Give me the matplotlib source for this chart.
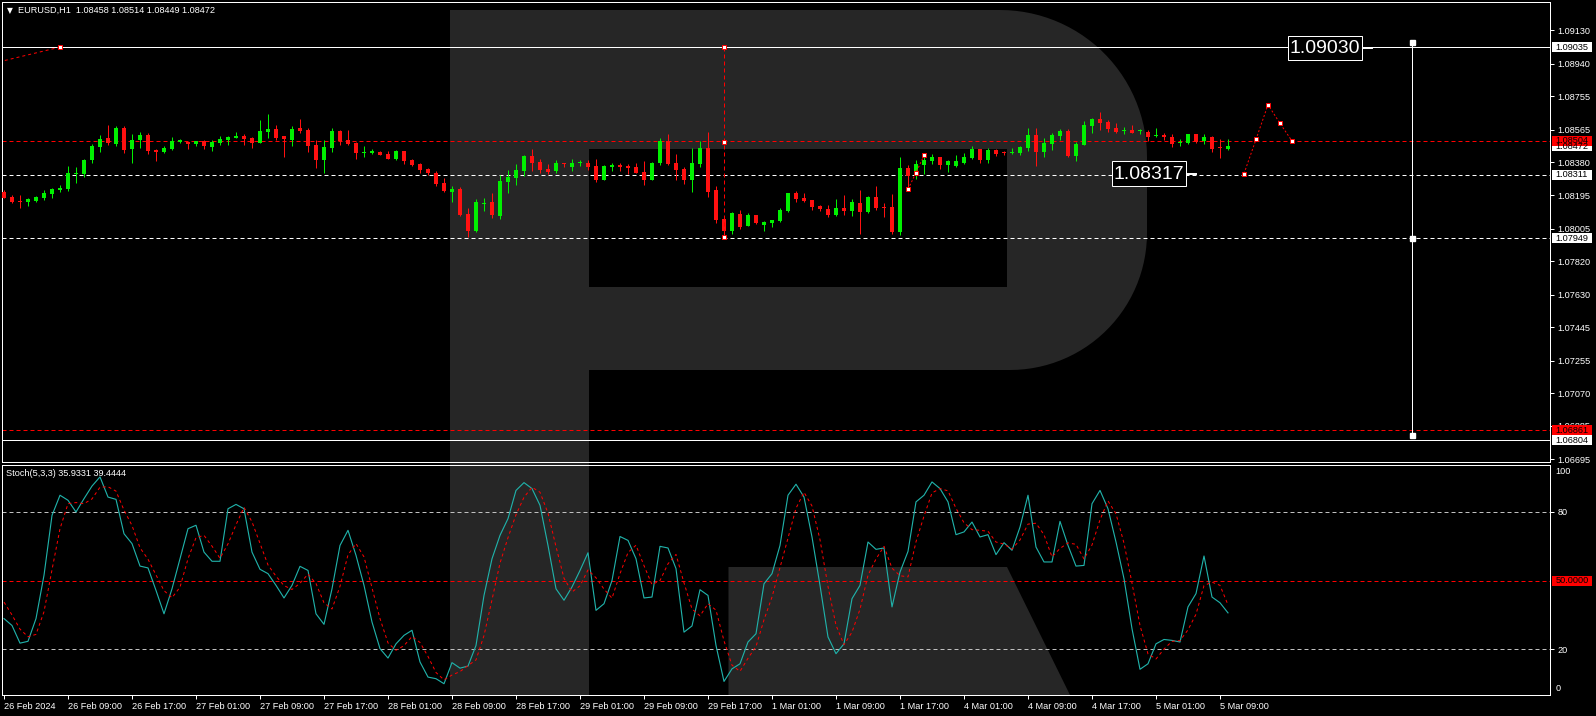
# EURUSD H1 chart with Stochastic (MT4 style)

import numpy as np
import matplotlib.pyplot as plt
from matplotlib import font_manager
from matplotlib.patches import Polygon, Rectangle
from matplotlib.transforms import Affine2D

# -------------------------------
# DATA
# -------------------------------
opens = [1.08212, 1.08184, 1.08161, 1.08156, 1.08161, 1.08178, 1.08201, 1.08224, 1.08229, 1.08314,
         1.08314, 1.08394, 1.08468, 1.08519, 1.08485, 1.08576, 1.08456, 1.08507, 1.08536, 1.08451,
         1.08439, 1.08456, 1.08496, 1.08496, 1.08485, 1.08502, 1.08468, 1.08490, 1.08507, 1.08519,
         1.08530, 1.08519, 1.08490, 1.08553, 1.08570, 1.08530, 1.08507, 1.08576, 1.08564, 1.08479,
         1.08394, 1.08462, 1.08558, 1.08507, 1.08490, 1.08434, 1.08434, 1.08439, 1.08428, 1.08400,
         1.08445, 1.08394, 1.08371, 1.08343, 1.08320, 1.08263, 1.08212, 1.08229, 1.08087, 1.07991,
         1.08144, 1.08156, 1.08076, 1.08269, 1.08292, 1.08331, 1.08417, 1.08383, 1.08343, 1.08331,
         1.08377, 1.08354, 1.08377, 1.08377, 1.08360, 1.08280, 1.08354, 1.08366, 1.08360, 1.08354,
         1.08326, 1.08280, 1.08377, 1.08502, 1.08377, 1.08343, 1.08280, 1.08371, 1.08462, 1.08224,
         1.08059, 1.07991, 1.08087, 1.08019, 1.08082, 1.08025, 1.08036, 1.08048, 1.08104, 1.08207,
         1.08178, 1.08167, 1.08133, 1.08116, 1.08082, 1.08121, 1.08104, 1.08150, 1.08099, 1.08184,
         1.08127, 1.08127, 1.07985, 1.08348, 1.08303, 1.08366, 1.08388, 1.08411, 1.08366, 1.08360,
         1.08377, 1.08405, 1.08456, 1.08394, 1.08451, 1.08434, 1.08434, 1.08434, 1.08462, 1.08536,
         1.08439, 1.08485, 1.08530, 1.08558, 1.08417, 1.08479, 1.08587, 1.08627, 1.08610, 1.08576,
         1.08558, 1.08564, 1.08558, 1.08553, 1.08530, 1.08536, 1.08524, 1.08490, 1.08490, 1.08541,
         1.08502, 1.08524, 1.08468, 1.08458]
highs = [1.08224, 1.08195, 1.08195, 1.08178, 1.08190, 1.08224, 1.08235, 1.08252, 1.08360, 1.08354,
         1.08400, 1.08485, 1.08536, 1.08593, 1.08587, 1.08587, 1.08541, 1.08553, 1.08547, 1.08456,
         1.08473, 1.08524, 1.08513, 1.08496, 1.08502, 1.08507, 1.08507, 1.08530, 1.08530, 1.08553,
         1.08541, 1.08524, 1.08621, 1.08655, 1.08593, 1.08530, 1.08587, 1.08627, 1.08576, 1.08507,
         1.08507, 1.08576, 1.08564, 1.08564, 1.08496, 1.08473, 1.08456, 1.08445, 1.08445, 1.08451,
         1.08445, 1.08400, 1.08377, 1.08348, 1.08331, 1.08292, 1.08246, 1.08241, 1.08121, 1.08173,
         1.08178, 1.08207, 1.08309, 1.08337, 1.08371, 1.08422, 1.08456, 1.08400, 1.08371, 1.08394,
         1.08377, 1.08400, 1.08394, 1.08394, 1.08400, 1.08366, 1.08377, 1.08377, 1.08371, 1.08377,
         1.08388, 1.08383, 1.08519, 1.08541, 1.08428, 1.08354, 1.08462, 1.08502, 1.08553, 1.08246,
         1.08065, 1.08099, 1.08110, 1.08093, 1.08082, 1.08048, 1.08053, 1.08121, 1.08207, 1.08218,
         1.08207, 1.08167, 1.08139, 1.08139, 1.08173, 1.08195, 1.08173, 1.08224, 1.08190, 1.08246,
         1.08150, 1.08201, 1.08411, 1.08366, 1.08394, 1.08428, 1.08428, 1.08411, 1.08394, 1.08422,
         1.08434, 1.08473, 1.08456, 1.08462, 1.08456, 1.08445, 1.08462, 1.08473, 1.08576, 1.08576,
         1.08519, 1.08547, 1.08570, 1.08570, 1.08496, 1.08615, 1.08632, 1.08666, 1.08621, 1.08604,
         1.08581, 1.08593, 1.08570, 1.08564, 1.08576, 1.08547, 1.08541, 1.08513, 1.08541, 1.08541,
         1.08541, 1.08530, 1.08513, 1.08514]
lows = [1.08178, 1.08150, 1.08121, 1.08133, 1.08156, 1.08167, 1.08178, 1.08212, 1.08218, 1.08263,
        1.08297, 1.08377, 1.08439, 1.08479, 1.08473, 1.08434, 1.08377, 1.08462, 1.08428, 1.08388,
        1.08434, 1.08451, 1.08490, 1.08456, 1.08473, 1.08456, 1.08445, 1.08479, 1.08479, 1.08519,
        1.08479, 1.08462, 1.08490, 1.08519, 1.08507, 1.08411, 1.08473, 1.08547, 1.08439, 1.08348,
        1.08320, 1.08439, 1.08479, 1.08479, 1.08400, 1.08411, 1.08428, 1.08422, 1.08400, 1.08394,
        1.08371, 1.08360, 1.08320, 1.08309, 1.08246, 1.08212, 1.08156, 1.08076, 1.07957, 1.07985,
        1.08104, 1.08065, 1.08059, 1.08207, 1.08252, 1.08303, 1.08331, 1.08320, 1.08314, 1.08320,
        1.08354, 1.08331, 1.08360, 1.08337, 1.08269, 1.08280, 1.08331, 1.08331, 1.08314, 1.08320,
        1.08252, 1.08280, 1.08366, 1.08366, 1.08280, 1.08258, 1.08212, 1.08354, 1.08184, 1.08036,
        1.07946, 1.07974, 1.08002, 1.08019, 1.08031, 1.07991, 1.08014, 1.08042, 1.08099, 1.08156,
        1.08156, 1.08110, 1.08104, 1.08070, 1.08076, 1.08082, 1.08076, 1.07974, 1.08093, 1.08110,
        1.08070, 1.07974, 1.07968, 1.08235, 1.08286, 1.08314, 1.08371, 1.08343, 1.08326, 1.08354,
        1.08371, 1.08400, 1.08377, 1.08377, 1.08417, 1.08422, 1.08428, 1.08422, 1.08445, 1.08360,
        1.08411, 1.08451, 1.08507, 1.08411, 1.08388, 1.08479, 1.08547, 1.08564, 1.08553, 1.08547,
        1.08541, 1.08547, 1.08541, 1.08502, 1.08524, 1.08507, 1.08468, 1.08473, 1.08485, 1.08490,
        1.08485, 1.08439, 1.08405, 1.08449]
closes = [1.08178, 1.08156, 1.08158, 1.08173, 1.08184, 1.08207, 1.08229, 1.08235, 1.08320, 1.08322,
          1.08394, 1.08473, 1.08513, 1.08490, 1.08576, 1.08451, 1.08507, 1.08536, 1.08445, 1.08439,
          1.08462, 1.08502, 1.08507, 1.08485, 1.08502, 1.08473, 1.08496, 1.08513, 1.08524, 1.08530,
          1.08513, 1.08490, 1.08558, 1.08570, 1.08519, 1.08513, 1.08570, 1.08558, 1.08473, 1.08394,
          1.08468, 1.08558, 1.08502, 1.08485, 1.08434, 1.08439, 1.08445, 1.08422, 1.08400, 1.08445,
          1.08388, 1.08366, 1.08337, 1.08320, 1.08258, 1.08218, 1.08229, 1.08082, 1.07991, 1.08156,
          1.08150, 1.08082, 1.08275, 1.08297, 1.08337, 1.08417, 1.08377, 1.08337, 1.08326, 1.08377,
          1.08371, 1.08377, 1.08383, 1.08354, 1.08280, 1.08360, 1.08366, 1.08354, 1.08348, 1.08320,
          1.08280, 1.08377, 1.08502, 1.08371, 1.08337, 1.08280, 1.08377, 1.08462, 1.08212, 1.08053,
          1.07991, 1.08093, 1.08014, 1.08082, 1.08036, 1.08042, 1.08053, 1.08110, 1.08207, 1.08173,
          1.08161, 1.08127, 1.08116, 1.08082, 1.08121, 1.08104, 1.08156, 1.08099, 1.08184, 1.08121,
          1.08121, 1.07985, 1.08348, 1.08303, 1.08371, 1.08394, 1.08411, 1.08366, 1.08388, 1.08388,
          1.08411, 1.08456, 1.08394, 1.08451, 1.08428, 1.08432, 1.08439, 1.08468, 1.08536, 1.08439,
          1.08490, 1.08536, 1.08558, 1.08417, 1.08485, 1.08593, 1.08627, 1.08604, 1.08570, 1.08553,
          1.08564, 1.08547, 1.08564, 1.08524, 1.08536, 1.08524, 1.08485, 1.08496, 1.08541, 1.08496,
          1.08524, 1.08456, 1.08462, 1.08472]

# Stochastic(5,3,3): main (%K) and signal (%D)
stoch_main = [33.4, 30.4, 22.7, 23.5, 33.4, 52.3, 78.4, 87.2, 85.0, 79.9,
              85.7, 91.2, 95.2, 86.4, 85.4, 70.4, 66.1, 56.3, 55.5, 45.7,
              35.5, 46.4, 59.5, 72.6, 74.1, 62.4, 58.4, 58.4, 81.3, 83.2,
              81.3, 62.4, 54.9, 53.0, 47.9, 42.4, 47.9, 56.2, 54.4, 35.5,
              30.9, 46.4, 65.3, 71.9, 61.0, 47.9, 31.9, 20.3, 16.2, 22.4,
              26.1, 28.3, 14.5, 7.9, 7.2, 5.0, 14.2, 11.8, 12.7, 21.7,
              43.5, 59.5, 69.7, 77.0, 89.3, 92.7, 90.1, 82.8, 65.3, 46.4,
              41.4, 47.2, 54.4, 62.1, 37.0, 39.9, 50.0, 69.2, 67.5, 59.5,
              42.4, 42.8, 64.9, 64.2, 55.2, 27.5, 30.2, 46.0, 43.5, 21.7,
              6.0, 11.5, 13.7, 23.2, 26.8, 48.6, 53.0, 65.3, 87.2, 92.0,
              86.4, 69.0, 47.9, 25.4, 18.1, 22.4, 42.1, 47.9, 66.8, 63.6,
              64.2, 38.5, 53.7, 62.7, 84.3, 87.2, 93.0, 90.1, 84.3, 70.0,
              71.2, 75.5, 69.0, 70.0, 61.3, 66.5, 63.2, 73.3, 87.2, 64.6,
              58.1, 58.1, 75.8, 65.3, 56.3, 56.6, 83.5, 89.3, 81.3, 66.8,
              50.8, 29.0, 11.3, 13.7, 22.4, 24.3, 23.9, 23.2, 38.5, 44.3,
              60.7, 42.8, 40.3, 35.9]
stoch_signal = [40.6, 35.0, 28.8, 25.5, 26.5, 36.4, 54.7, 72.6, 83.5, 84.0,
                83.5, 85.6, 90.7, 90.9, 89.0, 80.7, 74.0, 64.3, 59.3, 52.5,
                45.6, 42.5, 47.1, 59.5, 68.7, 69.7, 65.0, 59.7, 66.0, 74.3,
                81.9, 75.6, 66.2, 56.8, 51.9, 47.8, 46.1, 48.8, 52.8, 48.7,
                40.3, 37.6, 47.5, 61.2, 66.1, 60.3, 46.9, 33.4, 22.8, 19.6,
                21.6, 25.6, 23.0, 16.9, 9.9, 6.7, 8.8, 10.3, 12.9, 15.4,
                26.0, 41.6, 57.6, 68.7, 78.7, 86.3, 90.7, 88.5, 79.4, 64.8,
                51.0, 45.0, 47.7, 54.6, 51.2, 46.3, 42.3, 53.0, 62.2, 65.4,
                56.5, 48.2, 50.0, 57.3, 61.4, 49.0, 37.6, 34.6, 39.9, 37.1,
                23.7, 13.1, 10.4, 16.1, 21.2, 32.9, 42.8, 55.6, 68.5, 81.5,
                88.5, 82.5, 67.8, 47.4, 30.5, 22.0, 27.5, 37.5, 52.3, 59.4,
                64.9, 55.4, 52.1, 51.6, 66.9, 78.1, 88.2, 90.1, 89.1, 81.5,
                75.2, 72.2, 71.9, 71.5, 66.8, 65.9, 63.7, 67.7, 74.6, 75.0,
                70.0, 60.3, 64.0, 66.4, 65.8, 59.4, 65.5, 76.5, 84.7, 79.1,
                66.3, 48.9, 30.4, 18.0, 15.8, 20.1, 23.5, 23.8, 28.5, 35.3,
                47.8, 49.3, 47.9, 39.4]

time_labels = ["26 Feb 2024", "26 Feb 09:00", "26 Feb 17:00", "27 Feb 01:00", "27 Feb 09:00",
               "27 Feb 17:00", "28 Feb 01:00", "28 Feb 09:00", "28 Feb 17:00", "29 Feb 01:00",
               "29 Feb 09:00", "29 Feb 17:00", "1 Mar 01:00", "1 Mar 09:00", "1 Mar 17:00",
               "4 Mar 01:00", "4 Mar 09:00", "4 Mar 17:00", "5 Mar 01:00", "5 Mar 09:00"]
label_step = 8

price_ticks = [1.09130, 1.08940, 1.08755, 1.08565, 1.08380, 1.08195, 1.08005,
               1.07820, 1.07630, 1.07445, 1.07255, 1.07070, 1.06885, 1.06695]

solid_levels = [1.09035, 1.06804]
red_levels = [1.08504, 1.06861]
dash_levels = [1.08311, 1.07949]
bid_price = 1.08472

# chart objects (bar index, price)
trend_left_x, trend_left_y = [-2, 7], [1.08936, 1.09035]
vline_red_x, vline_red_y = [90, 90, 90], [1.09035, 1.08496, 1.07957]
trend_mid_x, trend_mid_y = [113, 114, 115], [1.08228, 1.08322, 1.08420]
forecast_x = [155, 156.5, 158, 159.5, 161]
forecast_y = [1.08317, 1.08511, 1.08708, 1.08602, 1.08502]
vline_white_x, vline_white_y = [176, 176, 176], [1.09062, 1.07949, 1.06836]
tag_bars, tag_prices = [171, 149], [1.09030, 1.08317]

# -------------------------------
# LAYOUT (pixels)
# -------------------------------
W, H = 1596, 716
P_TOP, P_BOT = 1.09291, 1.06680
BULL, BEAR = "#00f000", "#ff1010"
GREY = "#262626"
LW = 0.72   # 1 px
FS = 6.6

names = {f.name for f in font_manager.fontManager.ttflist}
NARROW = "Liberation Sans Narrow" if "Liberation Sans Narrow" in names else "Liberation Sans"
plt.rcParams["font.family"] = [NARROW, "DejaVu Sans"]

fig = plt.figure(figsize=(W / 100, H / 100), dpi=100, facecolor="black")
px = Affine2D().scale(1 / W, -1 / H).translate(0, 1) + fig.transFigure


def frac(x0, y0, x1, y1):
    return [x0 / W, 1 - y1 / H, (x1 - x0) / W, (y1 - y0) / H]


def bar_px(i):
    return 4 + 8 * i


def price_px(p):
    return 2 + (P_TOP - p) / (P_TOP - P_BOT) * 460


ax = fig.add_axes(frac(2, 2, 1550, 462))
ax2 = fig.add_axes(frac(2, 464.5, 1550, 695.2))

# -------------------------------
# WATERMARK
# -------------------------------
t = np.linspace(-np.pi / 2, 0, 30)
t2 = np.linspace(0, np.pi / 2, 30)
bowl = [(450, 10), (1000, 10)]
bowl += list(zip(1000 + 147 * np.cos(t), 157 + 147 * np.sin(t)))
bowl += list(zip(1010 + 137 * np.cos(t2), 233 + 137 * np.sin(t2)))
bowl += [(450, 370)]
shapes = [
    (bowl, GREY),
    ([(589, 149), (1007, 149), (1007, 287), (589, 287)], "black"),
    ([(450, 10), (589, 10), (589, 695), (450, 695)], GREY),
    ([(728.5, 567), (1007, 567), (1070, 695), (728.5, 695)], GREY),
]
for pts, fc in shapes:
    fig.add_artist(Polygon(pts, closed=True, fc=fc, ec="none", transform=px, zorder=-1))

# -------------------------------
# MAIN PANEL
# -------------------------------
x = np.arange(len(opens))
o, h, l, c = map(np.array, (opens, highs, lows, closes))
col = np.where(c > o, BULL, BEAR)

for lv in solid_levels:
    ax.axhline(lv, color="white", lw=LW, zorder=2)
for lv in red_levels:
    ax.axhline(lv, color="red", lw=LW, dashes=(4, 3), zorder=2)
for lv in dash_levels:
    ax.axhline(lv, color="white", lw=LW, dashes=(4, 3), zorder=2)

ax.vlines(x, l, h, colors=col, lw=LW, zorder=3)
ax.bar(x, np.maximum(np.abs(c - o), 0.00006), bottom=np.minimum(o, c),
       width=0.62, color=col, lw=0, zorder=4)

sq = dict(marker="s", ms=3.4, mfc="white", mec="red", mew=0.7)
ax.plot(trend_left_x, trend_left_y, color="red", lw=LW, dashes=(3, 3), zorder=5)
ax.plot(trend_left_x[-1:], trend_left_y[-1:], ls="none", zorder=6, **sq)
ax.plot(vline_red_x, vline_red_y, color="red", lw=LW, dashes=(4, 3), zorder=5)
ax.plot(vline_red_x, vline_red_y, ls="none", zorder=6, **sq)
ax.plot(trend_mid_x, trend_mid_y, color="red", lw=LW, dashes=(2, 2), zorder=5)
ax.plot(trend_mid_x, trend_mid_y, ls="none", zorder=6, **sq)
ax.plot(forecast_x, forecast_y, color="red", lw=LW, dashes=(2, 2), zorder=5)
ax.plot(forecast_x, forecast_y, ls="none", zorder=6, **sq)
ax.plot(vline_white_x, vline_white_y, color="white", lw=LW, zorder=5)
ax.plot(vline_white_x, vline_white_y, ls="none", marker="s", ms=3.6,
        mfc="white", mec="white", zorder=6)

# price tag objects
for b, p in zip(tag_bars, tag_prices):
    xr, yc = bar_px(b), price_px(p)
    fig.add_artist(plt.Line2D([xr - 10, xr], [yc, yc], color="white", lw=1.4, transform=px))
    fig.add_artist(Rectangle((xr - 84.5, yc - 12.3), 74.5, 24.7, fc="black", ec="white",
                             lw=LW, transform=px, zorder=7))
    fig.text(xr - 47.3, yc + 0.5, f"{p:.5f}", color="white", fontsize=14,
             ha="center", va="center", transform=px, zorder=8)

ax.set_xlim(-0.25, 193.25)
ax.set_ylim(P_BOT, P_TOP)
ax.yaxis.tick_right()
ax.set_yticks(price_ticks)
ax.set_yticklabels([f"{p:.5f}" for p in price_ticks])
ax.tick_params(axis="y", colors="white", length=3, width=LW, labelsize=FS, pad=2.5)
ax.tick_params(axis="x", bottom=False, labelbottom=False)


def axis_box(a, val, text, fc, unit_px):
    hh = 10 / unit_px
    tr = a.get_yaxis_transform()
    a.add_patch(Rectangle((1 + 2 / 1548, val - hh / 2), 40 / 1548, hh, fc=fc, ec="none",
                          transform=tr, clip_on=False, zorder=8))
    a.text(1 + 5.5 / 1548, val, text, color="black", fontsize=FS, ha="left", va="center",
           transform=tr, clip_on=False, zorder=9)


upx = 460 / (P_TOP - P_BOT)
for lv in solid_levels + dash_levels + [bid_price]:
    axis_box(ax, lv, f"{lv:.5f}", "white", upx)
for lv in red_levels:
    axis_box(ax, lv, f"{lv:.5f}", "red", upx)

# -------------------------------
# STOCHASTIC PANEL
# -------------------------------
ax2.axhline(80, color="#c0c0c0", lw=LW, dashes=(4, 3))
ax2.axhline(20, color="#c0c0c0", lw=LW, dashes=(4, 3))
ax2.axhline(50, color="red", lw=LW, dashes=(4, 3))
ax2.plot(x, stoch_main, color="#20b2aa", lw=LW + 0.1, zorder=3)
ax2.plot(x, stoch_signal, color="red", lw=LW, dashes=(3, 3), zorder=3)

ax2.set_xlim(-0.25, 193.25)
ax2.set_ylim(0, 100.6)
ax2.yaxis.tick_right()
ax2.set_yticks([80, 20])
ax2.set_yticklabels(["80", "20"])
ax2.tick_params(axis="y", colors="white", length=3, width=LW, labelsize=FS, pad=2.5)
tr2 = ax2.get_yaxis_transform()
ax2.text(1 + 5.5 / 1548, 97.5, "100", color="white", fontsize=FS, va="center", transform=tr2)
ax2.text(1 + 5.5 / 1548, 3.0, "0", color="white", fontsize=FS, va="center", transform=tr2)
axis_box(ax2, 50, "50.0000", "red", 230.7 / 100.6)

ticks = list(range(0, len(opens), label_step))
ax2.set_xticks(ticks)
ax2.set_xticklabels(time_labels)
ax2.tick_params(axis="x", colors="white", length=3, width=LW, labelsize=FS, pad=2)
for lbl in ax2.get_xticklabels():
    lbl.set_ha("left")

for a in (ax, ax2):
    a.set_facecolor("none")
    for s in a.spines.values():
        s.set_color("white")
        s.set_linewidth(LW)

# -------------------------------
# TEXT
# -------------------------------
fig.text(7, 10.5, "\u25bc", color="white", fontsize=5.5, family="DejaVu Sans",
         va="center", transform=px)
fig.text(17.5, 10.5, "EURUSD,H1  1.08458 1.08514 1.08449 1.08472", color="white",
         fontsize=FS, va="center", transform=px)
fig.text(6.5, 473.5, "Stoch(5,3,3) 35.9331 39.4444", color="white",
         fontsize=FS, va="center", transform=px)

fig.savefig("out.png", dpi=100, facecolor="black")
